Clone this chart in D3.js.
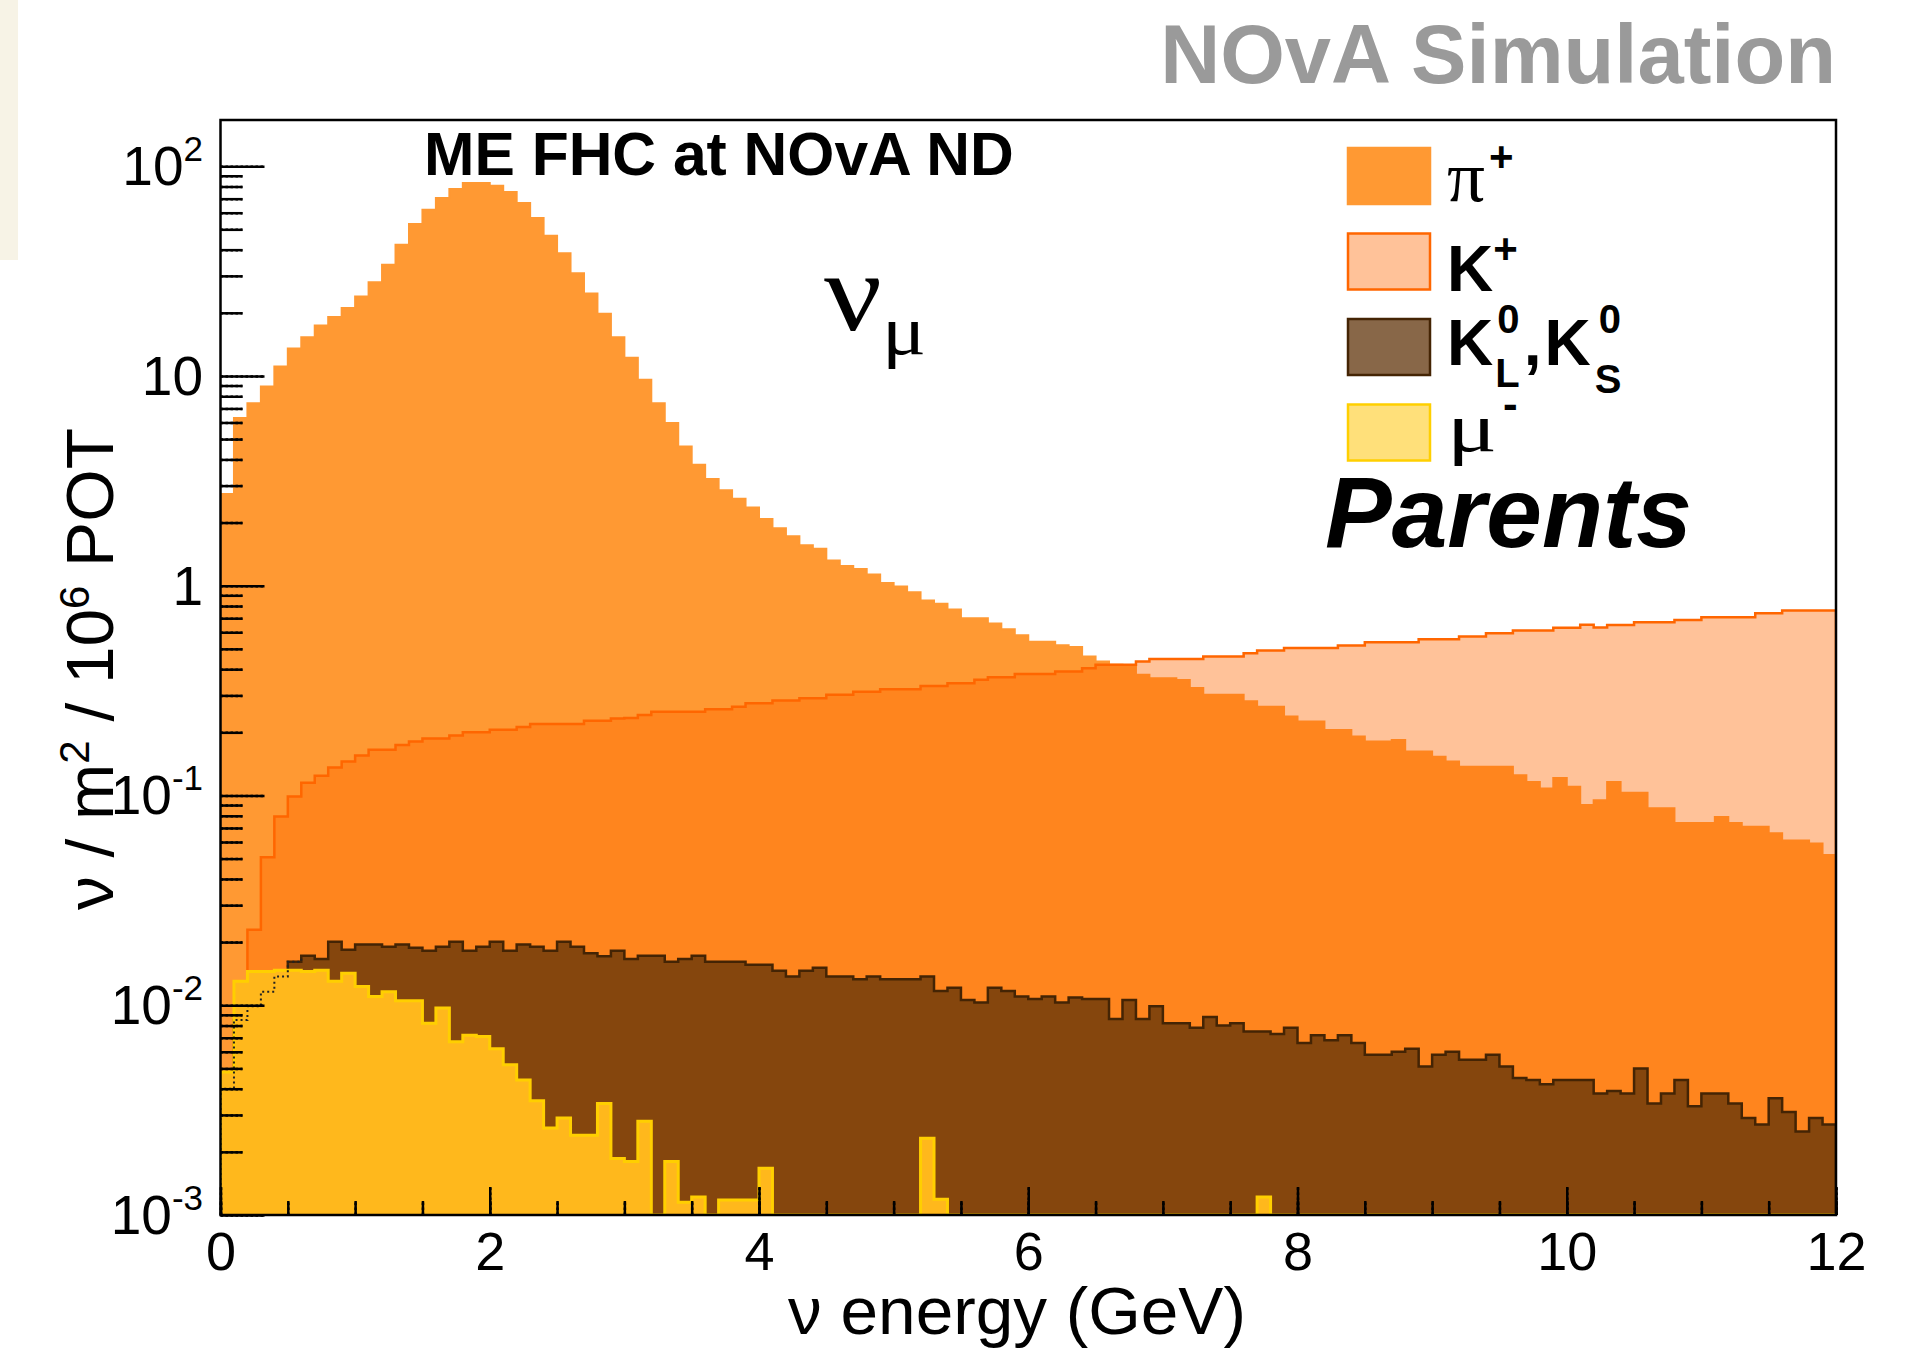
<!DOCTYPE html>
<html>
<head>
<meta charset="utf-8">
<script src="https://cdn.jsdelivr.net/npm/d3@7"></script>
<style>
  body { margin: 0; background: #fff; }
  svg { display: block; }
</style>
</head>
<body>
<svg id="chart" width="1915" height="1350"></svg>
<script>
// binning: 120 bins of 0.1 GeV from 0 to 12 GeV
const nBins = 120, eMin = 0, eMax = 12;

// nu_mu flux by parent, per 0.1 GeV bin (nu / m^2 / 10^6 POT)
const piPlus = [
  2.74, 6.3, 7.4, 8.9, 11.1, 13.5, 15.3, 17.4, 19.1, 21.1,
  23.9, 28.0, 33.9, 42.2, 53.0, 62.0, 70.5, 77.9, 83.2, 83.2,
  80.7, 75.3, 66.7, 56.6, 46.6, 38.5, 30.9, 24.7, 19.8, 15.3,
  12.2, 9.6, 7.4, 5.96, 4.61, 3.77, 3.23, 2.85, 2.60, 2.36,
  2.08, 1.88, 1.72, 1.56, 1.50, 1.32, 1.24, 1.20, 1.13, 1.03,
  0.99, 0.93, 0.85, 0.82, 0.77, 0.70, 0.70, 0.66, 0.62, 0.58,
  0.54, 0.54, 0.52, 0.51, 0.46, 0.435, 0.42, 0.41, 0.376, 0.362,
  0.362, 0.355, 0.325, 0.302, 0.302, 0.302, 0.281, 0.265, 0.265, 0.238,
  0.225, 0.225, 0.205, 0.205, 0.191, 0.181, 0.181, 0.184, 0.162, 0.162,
  0.153, 0.145, 0.137, 0.137, 0.137, 0.137, 0.125, 0.116, 0.108, 0.121,
  0.110, 0.090, 0.095, 0.116, 0.103, 0.103, 0.087, 0.087, 0.074, 0.074,
  0.074, 0.079, 0.074, 0.071, 0.071, 0.066, 0.061, 0.061, 0.059, 0.052
];
const kPlus = [
  0.0013, 0.008, 0.0229, 0.0508, 0.0793, 0.0988, 0.115, 0.124, 0.136, 0.145,
  0.155, 0.165, 0.165, 0.174, 0.181, 0.187, 0.187, 0.193, 0.200, 0.200,
  0.206, 0.206, 0.212, 0.219, 0.219, 0.219, 0.219, 0.227, 0.227, 0.233,
  0.234, 0.242, 0.251, 0.251, 0.251, 0.251, 0.258, 0.258, 0.265, 0.275,
  0.275, 0.284, 0.284, 0.291, 0.291, 0.302, 0.302, 0.312, 0.312, 0.321,
  0.321, 0.321, 0.333, 0.333, 0.343, 0.343, 0.356, 0.366, 0.366, 0.379,
  0.379, 0.379, 0.390, 0.390, 0.404, 0.420, 0.420, 0.420, 0.435, 0.447,
  0.447, 0.447, 0.447, 0.460, 0.460, 0.460, 0.477, 0.491, 0.491, 0.504,
  0.504, 0.504, 0.504, 0.519, 0.519, 0.538, 0.538, 0.538, 0.538, 0.556,
  0.556, 0.556, 0.573, 0.573, 0.594, 0.594, 0.611, 0.611, 0.611, 0.630,
  0.630, 0.651, 0.632, 0.649, 0.649, 0.670, 0.670, 0.670, 0.687, 0.687,
  0.708, 0.708, 0.708, 0.708, 0.740, 0.740, 0.762, 0.762, 0.762, 0.762
];
const kZero = [
  0.0040, 0.0085, 0.0099, 0.0116, 0.0137, 0.0161, 0.0172, 0.0166, 0.0201, 0.0184,
  0.0195, 0.0195, 0.0190, 0.0195, 0.0188, 0.0182, 0.0190, 0.0201, 0.0182, 0.0190,
  0.0201, 0.0182, 0.0195, 0.0190, 0.0182, 0.0201, 0.0190, 0.0177, 0.0171, 0.0182,
  0.0166, 0.0172, 0.0172, 0.0161, 0.0166, 0.0172, 0.0161, 0.0161, 0.0161, 0.0156,
  0.0156, 0.0146, 0.0137, 0.0146, 0.0151, 0.0137, 0.0137, 0.0133, 0.0137, 0.0133,
  0.0133, 0.0133, 0.0137, 0.0117, 0.0121, 0.0106, 0.0103, 0.0121, 0.0117, 0.0110,
  0.0107, 0.0110, 0.0103, 0.0109, 0.0107, 0.0107, 0.0086, 0.0106, 0.0086, 0.0099,
  0.0082, 0.0082, 0.0078, 0.0088, 0.0080, 0.0082, 0.0075, 0.0075, 0.0073, 0.0078,
  0.0066, 0.0072, 0.0068, 0.0072, 0.0066, 0.0058, 0.0058, 0.0060, 0.0062, 0.0051,
  0.0058, 0.0060, 0.0055, 0.0055, 0.0058, 0.0051, 0.0045, 0.0044, 0.0042, 0.0044,
  0.0044, 0.0044, 0.0038, 0.0039, 0.0038, 0.0050, 0.0034, 0.0038, 0.0044, 0.0033,
  0.0038, 0.0038, 0.0034, 0.0029, 0.0027, 0.0036, 0.0031, 0.0025, 0.0029, 0.0027
];
const muMinus = [
  0.0048, 0.0130, 0.0145, 0.0145, 0.0147, 0.0147, 0.0145, 0.0147, 0.0130, 0.0142,
  0.0123, 0.0110, 0.0116, 0.0105, 0.0105, 0.0082, 0.0097, 0.0067, 0.0072, 0.0071,
  0.0062, 0.0052, 0.0044, 0.0035, 0.0026, 0.0029, 0.0024, 0.0024, 0.0034, 0.00186,
  0.0018, 0.0028, 0, 0.0018, 0.00115, 0.00122, 0, 0.00118, 0.00118, 0.00118,
  0.00167, 0, 0, 0, 0, 0, 0, 0, 0, 0,
  0, 0, 0.00232, 0.00119, 0, 0, 0, 0, 0, 0,
  0, 0, 0, 0, 0, 0, 0, 0, 0, 0,
  0, 0, 0, 0, 0, 0, 0, 0.00122, 0, 0,
  0, 0, 0, 0, 0, 0, 0, 0, 0, 0,
  0, 0, 0, 0, 0, 0, 0, 0, 0, 0,
  0, 0, 0, 0, 0, 0, 0, 0, 0, 0,
  0, 0, 0, 0, 0, 0, 0, 0, 0, 0
];

const xTicks = [0, 2, 4, 6, 8, 10, 12];
const xMinorTicks = d3.range(0, 12.001, 0.5);
const yTickPowers = [-3, -2, -1, 0, 1, 2];
const yDomain = [1e-3, 166];

const SANS = '"Liberation Sans", Arial, Helvetica, sans-serif';
const SERIF = '"Liberation Serif", "Times New Roman", serif';

const svg = d3.select('#chart');
const plot = { l: 220.5, r: 1836, t: 120, b: 1215 };

const x = d3.scaleLinear().domain([eMin, eMax]).range([plot.l, plot.r]);
const y = d3.scaleLog().domain(yDomain).range([plot.b, plot.t]).clamp(true);
const edge = i => eMin + i * (eMax - eMin) / nBins;

// beige strip at top-left of the slide
svg.append('rect').attr('x', 0).attr('y', 0).attr('width', 18).attr('height', 260).attr('fill', '#f7f3e6');

svg.append('defs').append('clipPath').attr('id', 'plotclip')
  .append('rect').attr('x', plot.l).attr('y', plot.t)
  .attr('width', plot.r - plot.l).attr('height', plot.b - plot.t);

const series = [
  { key: 'pi', vals: piPlus,  fill: '#ff9933', op: 1,    stroke: '#ff9933', sw: 2 },
  { key: 'kp', vals: kPlus,   fill: '#ff6600', op: 0.4,  stroke: '#ff6600', sw: 2.5 },
  { key: 'k0', vals: kZero,   fill: '#5e3208', op: 0.76, stroke: '#442404', sw: 2.5 },
  { key: 'mu', vals: muMinus, fill: '#ffb81c', op: 1,    stroke: '#ffcf00', sw: 3 }
];

const stepPts = vals => {
  const pts = vals.map((v, i) => ({ e: edge(i), v }));
  pts.push({ e: edge(nBins), v: vals[nBins - 1] });
  return pts;
};
const area = d3.area().curve(d3.curveStepAfter)
  .x(d => x(d.e)).y0(y(yDomain[0])).y1(d => y(Math.max(d.v, yDomain[0])));
const outline = d3.line().curve(d3.curveStepAfter)
  .x(d => x(d.e)).y(d => y(Math.max(d.v, yDomain[0])));
const outlinePts = vals => {
  const p = stepPts(vals);
  return [{ e: edge(0), v: 0 }, ...p, { e: edge(nBins), v: 0 }];
};

const hist = svg.append('g').attr('clip-path', 'url(#plotclip)');

function drawSeries(s) {
  const g = hist.append('g').attr('class', 'h-' + s.key);
  g.append('path').attr('d', area(stepPts(s.vals)))
    .attr('fill', s.fill).attr('fill-opacity', s.op);
  g.append('path').attr('d', outline(outlinePts(s.vals)))
    .attr('fill', 'none').attr('stroke', s.stroke).attr('stroke-width', s.sw);
}

// axis ticks (inward), drawn right after the first histogram like ROOT does
const yMajor = yTickPowers.map(p => Math.pow(10, p));
const yMinor = [];
yTickPowers.forEach(p => d3.range(2, 10).forEach(m => {
  const v = m * Math.pow(10, p);
  if (v < yDomain[1]) yMinor.push(v);
}));

function drawTicks(g, dashed) {
  const style = sel => {
    sel.select('.domain').remove();
    sel.selectAll('line').attr('stroke', '#000').attr('stroke-width', 2.5)
      .attr('stroke-dasharray', dashed ? '2.5,2.5' : null);
    sel.selectAll('text').remove();
  };
  g.append('g').attr('transform', `translate(${plot.l},0)`)
    .call(d3.axisLeft(y).tickValues(yMajor).tickSize(-44).tickFormat('')).call(style);
  g.append('g').attr('transform', `translate(${plot.l},0)`)
    .call(d3.axisLeft(y).tickValues(yMinor).tickSize(-22).tickFormat('')).call(style);
  g.append('g').attr('transform', `translate(0,${plot.b})`)
    .call(d3.axisBottom(x).tickValues(xMinorTicks).tickSize(-14).tickFormat('')).call(style);
  g.append('g').attr('transform', `translate(0,${plot.b})`)
    .call(d3.axisBottom(x).tickValues(xTicks).tickSize(-28).tickFormat('')).call(style);
}

drawSeries(series[0]);
drawTicks(svg.append('g'), false);
series.slice(1).forEach(drawSeries);

// K0 outline seen through the mu- fill at low energy
hist.append('path').attr('d', outline(outlinePts(kZero).slice(0, 8)))
  .attr('fill', 'none').attr('stroke', '#222').attr('stroke-width', 2)
  .attr('stroke-dasharray', '2,3');
// ticks showing through the patterned fills
drawTicks(svg.append('g'), true);

// frame
svg.append('rect').attr('x', plot.l).attr('y', plot.t)
  .attr('width', plot.r - plot.l).attr('height', plot.b - plot.t)
  .attr('fill', 'none').attr('stroke', '#000').attr('stroke-width', 2.5);

// helpers
function put(g, px, py, txt, o) {
  const t = g.append('text').attr('x', px).attr('y', py)
    .attr('font-family', o.family || SANS).attr('font-size', o.size)
    .attr('font-weight', o.weight || 'normal').attr('font-style', o.style || 'normal')
    .attr('fill', o.fill || '#000').attr('text-anchor', o.anchor || 'start').text(txt);
  if (o.len) t.attr('textLength', o.len).attr('lengthAdjust', 'spacingAndGlyphs');
  return t;
}
const wid = t => t.node().getComputedTextLength();
function fit(t, w) {
  const fs = parseFloat(t.attr('font-size'));
  t.attr('font-size', fs * w / wid(t));
  return t;
}

// x tick labels
svg.append('g').attr('transform', `translate(0,${plot.b})`)
  .call(d3.axisBottom(x).tickValues(xTicks).tickSize(0).tickPadding(17).tickFormat(d3.format('d')))
  .call(g => {
    g.select('.domain').remove();
    g.selectAll('text').attr('font-family', SANS).attr('font-size', 54).attr('fill', '#000');
  });

// y tick labels with exponents
const yl = svg.append('g');
yTickPowers.forEach(p => {
  const t = yl.append('text').attr('x', 203).attr('y', y(Math.pow(10, p)) + 19)
    .attr('text-anchor', 'end').attr('font-family', SANS).attr('font-size', 55);
  if (p === 0) t.text('1');
  else if (p === 1) t.text('10');
  else {
    t.append('tspan').text('10');
    t.append('tspan').attr('dy', -24).attr('font-size', 35).text(String(p));
  }
});

// axis titles
const xt = put(svg, 788, 1334, 'ν energy (GeV)', { size: 60 });
fit(xt, 458);

const yt = svg.append('text').attr('transform', 'translate(113,669) rotate(-90)')
  .attr('text-anchor', 'middle').attr('font-family', SANS).attr('font-size', 62);
yt.append('tspan').text('ν / m');
yt.append('tspan').attr('dy', -24).attr('font-size', '0.62em').text('2');
yt.append('tspan').attr('dy', 24).text(' / 10');
yt.append('tspan').attr('dy', -24).attr('font-size', '0.62em').text('6');
yt.append('tspan').attr('dy', 24).text(' POT');
fit(yt, 482);

// titles
fit(put(svg, 1836, 83, 'NOvA Simulation', { size: 80, weight: 'bold', fill: '#9a9a9a', anchor: 'end' }), 676);
fit(put(svg, 424, 175, 'ME FHC at NOvA ND', { size: 60, weight: 'bold' }), 590);

// nu_mu label
put(svg, 824, 330, 'ν', { size: 112, family: SERIF, len: 58 });
put(svg, 882, 354, 'μ', { size: 70, family: SERIF, len: 44 });

// legend
const legendNames = ['pi', 'kp', 'k0', 'mu'];
const legendSwatch = { pi: ['#ff9933', 1, '#ff9933'], kp: ['#ff6600', 0.4, '#ff6600'],
  k0: ['#5e3208', 0.74, '#442404'], mu: ['#ffe07a', 1, '#ffcf00'] };
const ly = d3.scalePoint().domain(legendNames).range([176, 432.5]);
const lg = svg.append('g');
legendNames.forEach(k => {
  const [f, op, st] = legendSwatch[k];
  lg.append('rect').attr('x', 1348).attr('y', ly(k) - 28).attr('width', 82).attr('height', 56)
    .attr('fill', f).attr('fill-opacity', op).attr('stroke', st).attr('stroke-width', 2.5);
});
const LX = 1447;
{ // pi+
  put(lg, LX, ly('pi') + 25, 'π', { size: 72, family: SERIF, len: 38 });
  put(lg, LX + 42, ly('pi') - 5, '+', { size: 42, weight: 'bold' });
}
{ // K+
  const t = put(lg, LX, ly('kp') + 29, 'K', { size: 64, weight: 'bold' });
  put(lg, LX + wid(t), ly('kp') + 1, '+', { size: 42, weight: 'bold' });
}
{ // K0L, K0S
  const b = ly('k0') + 18;
  const k1 = put(lg, LX, b, 'K', { size: 64, weight: 'bold' });
  let cx = LX + wid(k1) + 2;
  const s1 = put(lg, cx + 2, b - 32, '0', { size: 40, weight: 'bold' });
  const l1 = put(lg, cx, b + 22, 'L', { size: 40, weight: 'bold' });
  cx += Math.max(wid(s1), wid(l1)) + 4;
  const cm = put(lg, cx, b, ',', { size: 64, weight: 'bold' });
  cx += wid(cm) + 3;
  const k2 = put(lg, cx, b, 'K', { size: 64, weight: 'bold' });
  cx += wid(k2) + 2;
  put(lg, cx + 6, b - 32, '0', { size: 40, weight: 'bold' });
  put(lg, cx + 2, b + 28, 'S', { size: 40, weight: 'bold' });
}
{ // mu-
  put(lg, LX, ly('mu') + 18, 'μ', { size: 70, family: SERIF, len: 50 });
  put(lg, LX + 56, ly('mu') - 14, '-', { size: 44, weight: 'bold' });
}
fit(put(svg, 1325, 547, 'Parents', { size: 92, weight: 'bold', style: 'italic' }), 367);
</script>
</body>
</html>
